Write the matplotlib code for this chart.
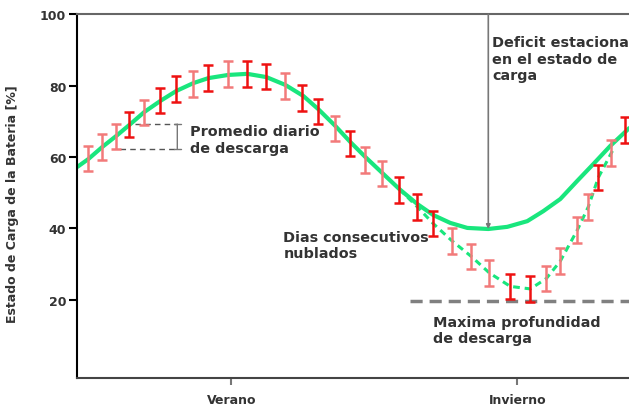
import numpy as np
import matplotlib
matplotlib.use('Agg')
import matplotlib.pyplot as plt

# Curva estacional del estado de carga (tiempo en unidades arbitrarias)
t_curva = [0, 11, 25, 39, 53, 67, 83, 99, 116, 131, 151, 170, 189, 208, 226,
           241, 258, 273, 288, 305, 322, 340, 356, 373, 390, 411, 430, 450,
           466, 483, 500, 516, 533, 552]
soc_curva = [57.2, 59.4, 62.8, 65.9, 69.2, 72.6, 75.7, 78.5, 80.7, 82.1, 83.0,
             83.3, 82.4, 80.2, 77.1, 73.4, 68.7, 64.2, 60.0, 55.5, 51.0, 46.8,
             43.7, 41.5, 40.1, 39.8, 40.4, 42.0, 44.8, 48.2, 53.3, 58.0, 63.1,
             68.1]

# Tramo con dias nublados (linea discontinua)
t_nublado = [322, 340, 356, 375, 394, 412, 433, 453, 469, 483, 500, 511, 521,
             534, 537]
soc_nublado = [51.0, 46.0, 41.3, 36.4, 32.1, 27.5, 23.7, 23.0, 25.9, 30.8,
               39.5, 46.0, 54.2, 61.1, 62.6]

# Ciclos diarios (barras)
t_dias = [11, 25, 39, 52, 67, 83, 99, 116, 131, 151, 170, 189, 208, 225, 241,
          258, 273, 288, 305, 322, 340, 356, 375, 394, 412, 433, 453, 469,
          483, 500, 511, 521, 534, 548]
soc_dias = [59.6, 62.8, 65.7, 69.1, 72.5, 75.8, 79.1, 80.5, 82.1, 83.3, 83.3,
            82.6, 79.9, 76.5, 72.7, 68.0, 63.8, 59.1, 55.4, 50.7, 46.0, 41.3,
            36.4, 32.1, 27.5, 23.7, 23.0, 25.9, 30.8, 39.5, 46.0, 54.2, 61.1,
            67.6]
descarga_diaria = 3.6

estaciones = ['Verano', 'Invierno']
t_estaciones = [154, 440]
y_ticks = [20, 40, 60, 80, 100]
profundidad_max = 19.5

# tono de cada barra (1 = rojo intenso, 0 = rojo claro)
tono = [0, 0, 0, 1, 0, 1, 1, 0, 1, 0, 1, 1, 0, 1, 1, 0, 1, 0, 0, 1, 1, 1,
        0, 0, 0, 1, 1, 0, 0, 0, 0, 1, 0, 1]

verde = '#19e67d'
gris = '#777777'
texto = '#333333'
fs = 10.4

fig = plt.figure(figsize=(6.29, 4.06), dpi=100)
ax = fig.add_axes([77.3 / 629, 27.3 / 406, 551.7 / 629, 363.4 / 406])

ax.plot(t_curva, soc_curva, color=verde, lw=3.0, solid_joinstyle='round',
        solid_capstyle='round', zorder=2)
ax.plot(t_nublado, soc_nublado, color=verde, lw=2.2, dashes=(2.2, 1.6),
        zorder=2)

for t, s, k in zip(t_dias, soc_dias, tono):
    c = '#ee1111' if k else '#f27a7a'
    ax.errorbar(t, s, yerr=descarga_diaria, fmt='none', ecolor=c,
                elinewidth=1.8, capsize=3.6, capthick=1.8, zorder=3)

# Promedio diario de descarga
ax.plot([58, 100], [69.2, 69.2], color='#555555', lw=1, dashes=(4, 3))
ax.plot([43, 100], [62.3, 62.3], color='#555555', lw=1, dashes=(4, 3))
ax.annotate('', xy=(100, 62.3), xytext=(100, 69.2),
            arrowprops=dict(arrowstyle='|-|, widthA=0.25, widthB=0.25',
                            color=gris, lw=1, shrinkA=0, shrinkB=0))
ax.text(113, 64.9, 'Promedio diario\nde descarga', fontsize=fs,
        fontweight='bold', color=texto, va='center', ha='left')

# Deficit estacional
ax.annotate('', xy=(411, 39.8), xytext=(411, 100),
            arrowprops=dict(arrowstyle='-|>', color=gris, lw=1.2,
                            mutation_scale=6, shrinkA=0, shrinkB=0))
ax.text(415, 87.6, 'Deficit estacional\nen el estado de\ncarga', fontsize=fs,
        fontweight='bold', color=texto, va='center', ha='left')

ax.text(206, 35.4, 'Dias consecutivos\nnublados', fontsize=fs,
        fontweight='bold', color=texto, va='center', ha='left')

# Maxima profundidad de descarga
ax.plot([333, 560], [profundidad_max, profundidad_max], color='#808080',
        lw=2.5, dashes=(3.5, 2), clip_on=False)
ax.text(356, 11.5, 'Maxima profundidad\nde descarga', fontsize=fs,
        fontweight='bold', color=texto, va='center', ha='left')

ax.set_xlim(0, 551.7)
ax.set_ylim(-1.9, 100)
ax.set_yticks(y_ticks)
ax.set_yticklabels([str(v) for v in y_ticks], fontsize=9, fontweight='bold',
                   color=texto)
ax.set_xticks(t_estaciones)
ax.set_xticklabels(estaciones, fontsize=9, fontweight='bold', color=texto)
ax.tick_params(axis='y', direction='out', length=6, width=1.5, color='black',
               pad=2)
ax.tick_params(axis='x', direction='out', length=5, width=1.5, color=gris,
               pad=6)

ax.set_ylabel('Estado de Carga de la Bateria [%]', fontsize=9,
              fontweight='bold', color=texto)
ax.yaxis.set_label_coords(-0.105, 0.48)

ax.spines['right'].set_visible(False)
ax.spines['left'].set_linewidth(1.5)
ax.spines['left'].set_color('black')
ax.spines['bottom'].set_linewidth(1.5)
ax.spines['bottom'].set_color('#444444')
ax.spines['top'].set_linewidth(1.5)
ax.spines['top'].set_color('#666666')

fig.savefig('out.png', dpi=100)
